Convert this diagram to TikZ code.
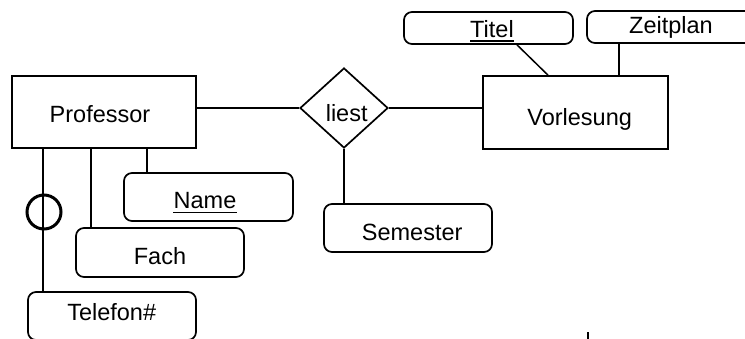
\documentclass[tikz,border=0pt]{standalone}
\usepackage{fontspec}
\setmainfont{Liberation Sans}
\usetikzlibrary{shapes.geometric}
\begin{document}
\begin{tikzpicture}[x=1pt,y=-1pt,
  every node/.style={inner sep=0pt},
  lbl/.style={font=\fontsize{23.5}{28}\selectfont, anchor=base},
  ent/.style={draw, line width=1.7pt, rectangle},
  attr/.style={draw, line width=1.7pt, rectangle, rounded corners=8pt},
  rel/.style={draw, line width=1.7pt, diamond},
  conn/.style={line width=1.5pt},
  uline/.style={line width=1.8pt},
  optc/.style={draw, circle, line width=3pt, minimum size=34pt}]
\useasboundingbox (0,0) rectangle (745,338);
\clip (0,0) rectangle (745,338);
% entities
\node[ent, minimum width=184pt, minimum height=72pt] (prof) at (104,112) {};
\node[ent, minimum width=185pt, minimum height=73pt] (vorl) at (575.5,112.5) {};
% relationship
\node[rel, minimum width=88pt, minimum height=80pt] (liest) at (344,108) {};
% attributes
\node[attr, minimum width=169pt, minimum height=48pt] (name) at (208.5,197) {};
\node[attr, minimum width=168pt, minimum height=49pt] (fach) at (160,252.5) {};
\node[attr, minimum width=168pt, minimum height=48pt] (tel) at (112,316) {};
\node[attr, minimum width=168pt, minimum height=48pt] (sem) at (408,228) {};
\node[attr, minimum width=169pt, minimum height=32pt] (titel) at (488.5,28) {};
\node[attr, minimum width=168pt, minimum height=32pt] (zeit) at (671,27) {};
% texts
\node[lbl] (profT) at (100,122) {Professor};
\node[lbl] (vorlT) at (579.7,125) {Vorlesung};
\node[lbl] (liestT) at (346.7,121.5) {liest};
\node[lbl] (nameT) at (205,208.5) {Name};
\node[lbl] (fachT) at (160,264) {Fach};
\node[lbl] (telT) at (111.7,320.5) {Telefon\#};
\node[lbl] (semT) at (412.2,240.5) {Semester};
\node[lbl] (titelT) at (492,37.3) {Titel};
\node[lbl] (zeitT) at (671,33.3) {Zeitplan};
% underlines (key attributes)
\draw[uline] ([yshift=-4pt]nameT.base west) -- ([yshift=-4pt]nameT.base east);
\draw[uline] ([yshift=-4pt]titelT.base west) -- ([yshift=-4pt]titelT.base east);
% connectors
\draw[conn] (liest.west) -- (liest.west -| prof.east);
\draw[conn] (liest.east) -- (liest.east -| vorl.west);
\draw[conn] (liest.south) -- (liest.south |- sem.north);
\draw[conn] ([xshift=16pt]tel.north west) -- ([xshift=16pt]tel.north west |- prof.south);
\draw[conn] ([xshift=16pt]fach.north west) -- ([xshift=16pt]fach.north west |- prof.south);
\draw[conn] ([xshift=24pt]name.north west) -- ([xshift=24pt]name.north west |- prof.south);
\draw[conn] ([xshift=28.5pt]titel.south) -- ([xshift=-27.5pt]vorl.north);
\draw[conn] ([xshift=33pt]zeit.south west) -- ([xshift=33pt]zeit.south west |- vorl.north);
\node[optc] (opt) at (44,212) {};
\coordinate (tick) at (588,332);
\draw[line width=2pt] (tick) -- ++(0,8);
\end{tikzpicture}
\end{document}
